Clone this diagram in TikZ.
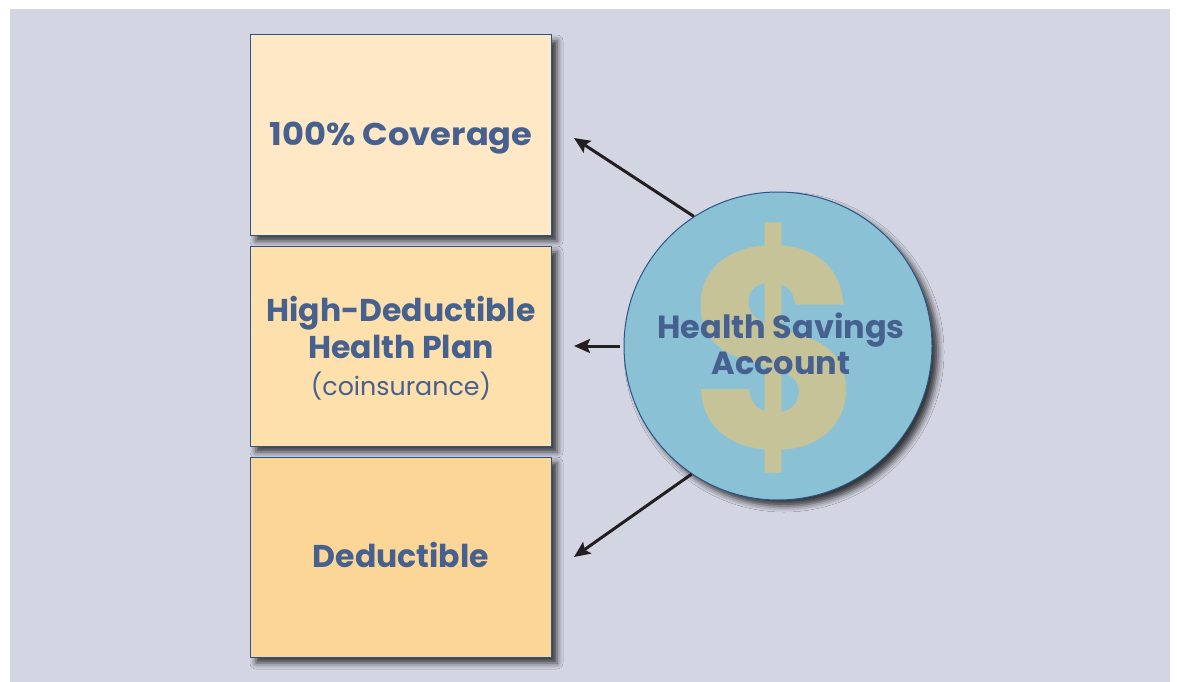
\documentclass[tikz,border=0pt]{standalone}
\usepackage{fontspec}
\setmainfont{Poppins}
\usetikzlibrary{shadows.blur,arrows.meta}
\definecolor{bgc}{HTML}{D3D5E2}
\definecolor{boxa}{HTML}{FEE8C6}
\definecolor{boxb}{HTML}{FDE0AC}
\definecolor{boxc}{HTML}{FCD696}
\definecolor{edge}{HTML}{2B5586}
\definecolor{txt}{HTML}{46608F}
\definecolor{circ}{HTML}{8BC1D4}
\definecolor{dol}{HTML}{C6C399}
\definecolor{arrc}{HTML}{231F20}
\tikzset{
  myshadow/.style={blur shadow={shadow xshift=6pt, shadow yshift=-6pt, shadow blur radius=6pt, shadow opacity=75}},
  planbox/.style={rectangle, draw=edge, line width=1pt, minimum width=301pt, minimum height=200pt,
    inner sep=0pt, myshadow},
  bigtxt/.style={text=txt, anchor=base, inner sep=0pt, align=center, font=\bfseries\fontsize{31.5}{37}\selectfont},
  hsacirc/.style={circle, draw=edge, line width=1pt, fill=circ, minimum size=308pt, inner sep=0pt, myshadow},
  dollar/.style={text=dol, font=\bfseries\fontsize{285}{285}\selectfont, inner sep=0pt},
  hsatxt/.style={text=txt, align=center, anchor=base, font=\bfseries\fontsize{32}{36}\selectfont, inner sep=0pt},
  arr/.style={draw=arrc, line width=3pt, -{Stealth[length=16pt,width=14pt,inset=3pt]}}
}
\begin{document}
\begin{tikzpicture}[x=1pt,y=-1pt]
\useasboundingbox (0,0) rectangle (1177,682);
\fill[white] (0,0) rectangle (1177,682);
\fill[bgc] (10,9) rectangle (1170,682);
\node[planbox, fill=boxa] (cov) at (400.5,135) {};
\node[planbox, fill=boxb] (hdhp) at (400.5,346) {};
\node[planbox, fill=boxc] (ded) at (400.5,557) {};
\node[bigtxt] (covt) at (401,145) {\scalebox{1.07}[1]{100\% Coverage}};
\node[bigtxt] (hdhpt) at (401,395) {High-Deductible\\Health Plan\\\mdseries\fontsize{25.3}{37}\selectfont (coinsurance)};
\node[bigtxt] (dedt) at (401,567) {Deductible};
\node[hsacirc] (hsa) at (778,346) {};
\node[dollar] (dsign) at (776.5,348) {\scalebox{0.93}[1]{\$}};
\node[hsatxt] (hsat) at (781,374) {Health Savings\\Account};
\coordinate (t1) at (574,138);
\coordinate (t2) at (574,346);
\coordinate (t3) at (574,557);
\draw[arr] (hsa.123.5) -- (t1);
\draw[arr, shorten <=4pt] (hsa.west) -- (t2);
\draw[arr] (hsa.236.5) -- (t3);
\end{tikzpicture}
\end{document}
